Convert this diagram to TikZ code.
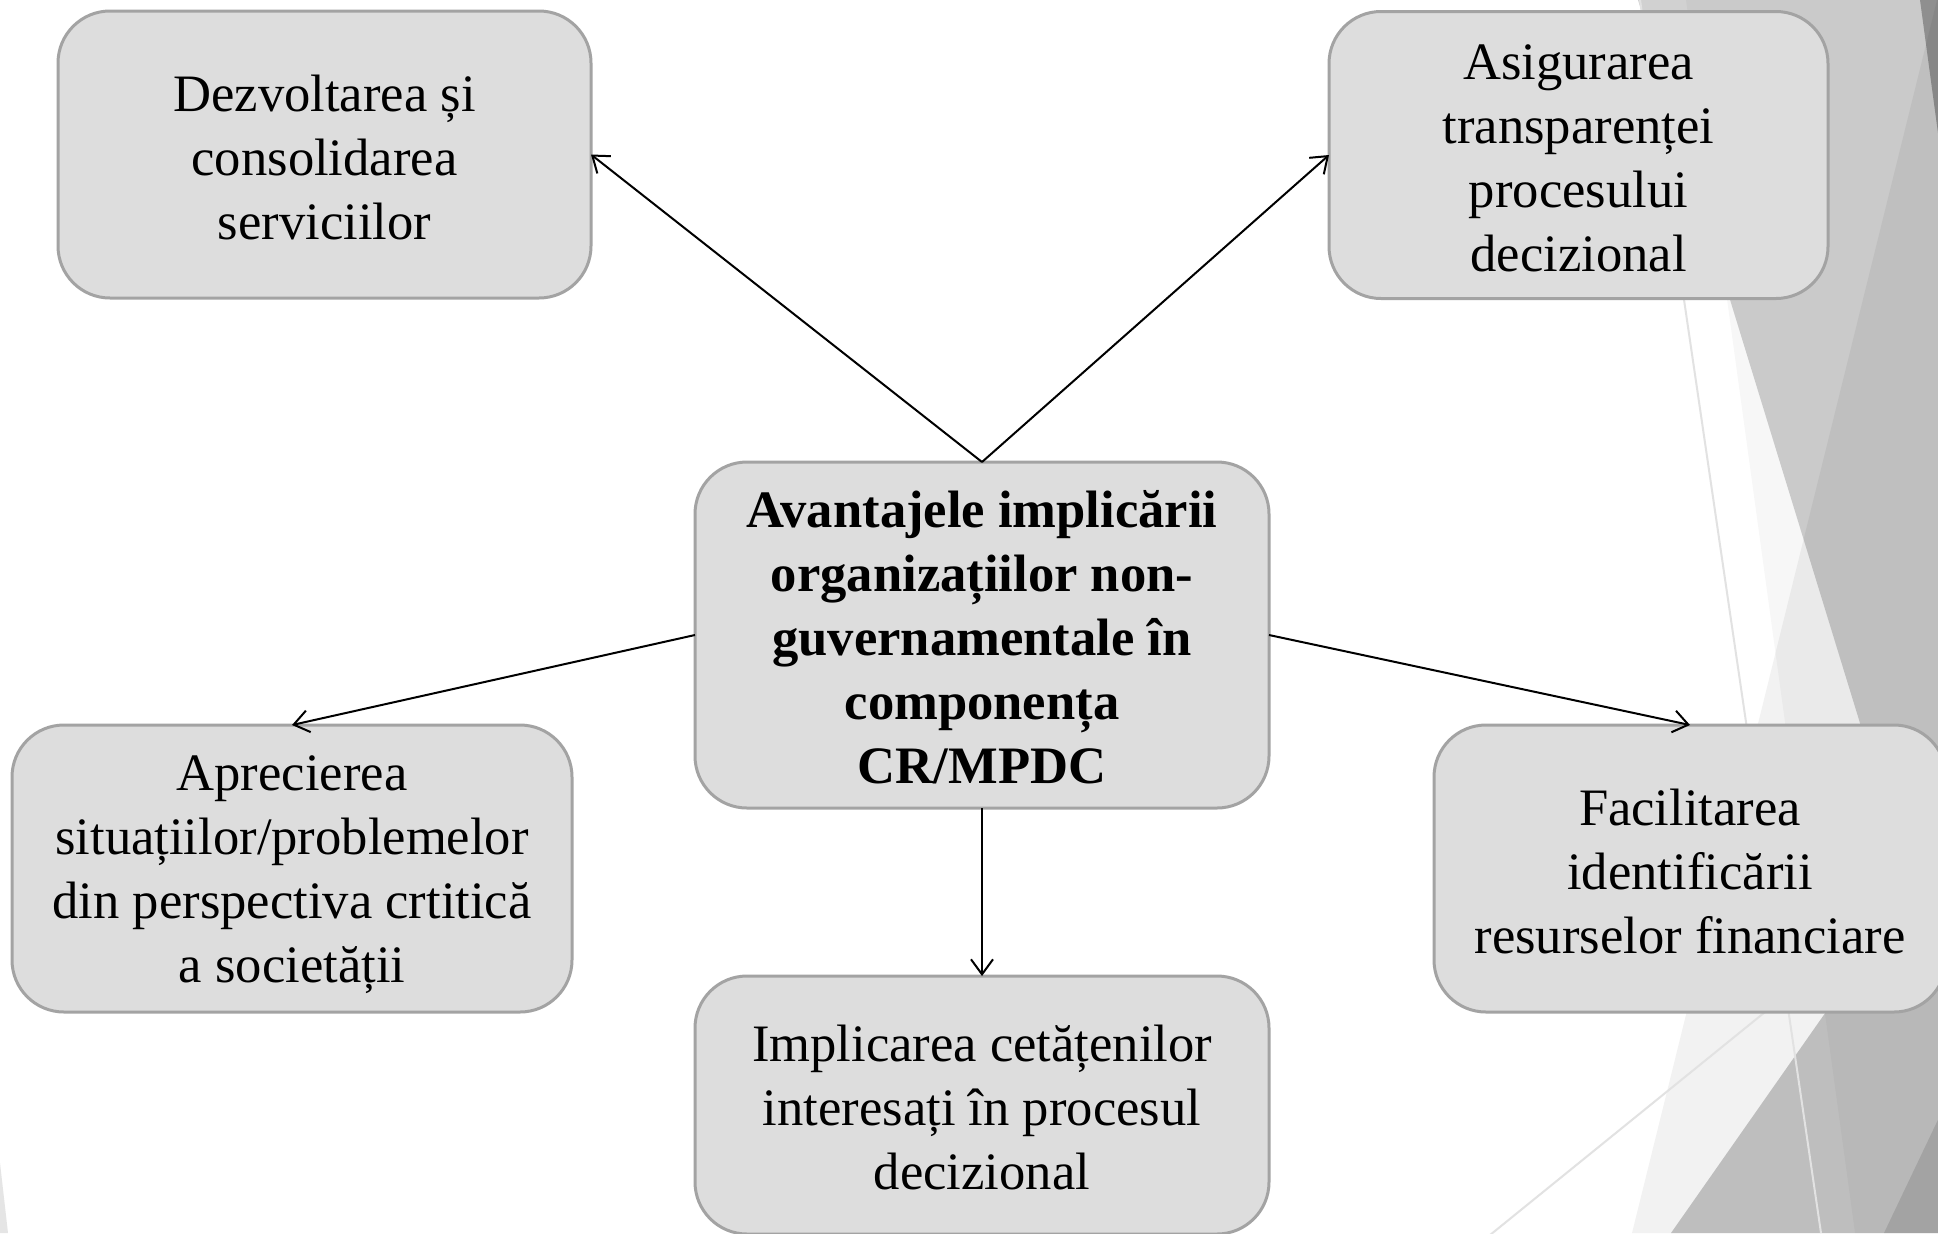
\documentclass[tikz,border=0pt]{standalone}
\usepackage{fontspec}
\setmainfont{Liberation Serif}
\usetikzlibrary{arrows.meta}
\definecolor{boxfill}{HTML}{DDDDDD}
\definecolor{boxline}{HTML}{A3A3A3}
\definecolor{thinline}{HTML}{E2E2E2}
\newcommand{\topstrut}{\rule{0pt}{24pt}}
\newcommand{\botstrut}{\rule[-3.5pt]{0pt}{3.5pt}}
\tikzset{
  box/.style={draw=boxline, line width=1.5pt, fill=boxfill, rounded corners=26pt,
    inner sep=0pt, outer sep=0pt, align=center, font=\fontsize{26.3}{32}\selectfont},
  conn/.style={line width=1pt, -{Straight Barb[length=7.5pt,width=11pt,line width=1pt]}},
  facet/.style={fill=black, draw=none}
}
\begin{document}
\begin{tikzpicture}[x=0.5pt,y=-0.5pt]
\useasboundingbox (0,0) rectangle (1938,1233);
\clip (0,0) rectangle (1938,1233);
\fill[white] (0,0) rectangle (1938,1233);
% background facets
\fill[facet, opacity=0.03] (1686,0) -- (1945,0) -- (1945,1233) -- (1855,1233) -- cycle;
\fill[facet, opacity=0.18] (1638,0) -- (1945,0) -- (1945,1000) -- cycle;
\fill[facet, opacity=0.05] (1937,0) -- (1945,0) -- (1945,1233) -- (1632,1233) -- cycle;
\fill[facet, opacity=0.21] (1945,842) -- (1945,1233) -- (1671,1233) -- cycle;
\fill[facet, opacity=0.115] (1945,1105) -- (1945,1233) -- (1884,1233) -- cycle;
\fill[facet, opacity=0.29] (1920,0) -- (1945,0) -- (1945,185) -- cycle;
\draw[thinline, line width=1pt] (1640,0) -- (1821,1233);
\draw[thinline, line width=1pt] (1770,1008) -- (1490,1235);
\fill[black!10] (0,1163) -- (8,1233) -- (0,1233) -- cycle;
% nodes
\node[box, minimum width=266.5pt, minimum height=143.5pt] (b1) at (324.5,154.5)
  {\topstrut Dezvoltarea și\\consolidarea\\serviciilor\botstrut};
\node[box, minimum width=249.5pt, minimum height=143.5pt] (b2) at (1578.5,155)
  {\topstrut Asigurarea\\transparenței\\procesului\\decizional\botstrut};
\node[box, minimum width=287pt, minimum height=173pt] (c) at (982,635)
  {\bfseries\topstrut Avantajele implicării\\\bfseries organizațiilor non-\\\bfseries guvernamentale în\\\bfseries componența\\\bfseries CR/MPDC\botstrut};
\node[box, minimum width=280pt, minimum height=143.5pt] (b3) at (292,868.5)
  {\topstrut Aprecierea\\situațiilor/problemelor\\din perspectiva crtitică\\a societății\botstrut};
\node[box, minimum width=287pt, minimum height=129pt] (b4) at (982,1105)
  {\topstrut Implicarea cetățenilor\\interesați în procesul\\decizional\botstrut};
\node[box, minimum width=256pt, minimum height=143.5pt] (b5) at (1690,868.5)
  {\topstrut Facilitarea\\identificării\\resurselor financiare\botstrut};
% connectors
\draw[conn] (c.north) -- (b1.east);
\draw[conn] (c.north) -- (b2.west);
\draw[conn] (c.west) -- (b3.north);
\draw[conn] (c.east) -- (b5.north);
\draw[conn] (c.south) -- (b4.north);
\end{tikzpicture}
\end{document}
